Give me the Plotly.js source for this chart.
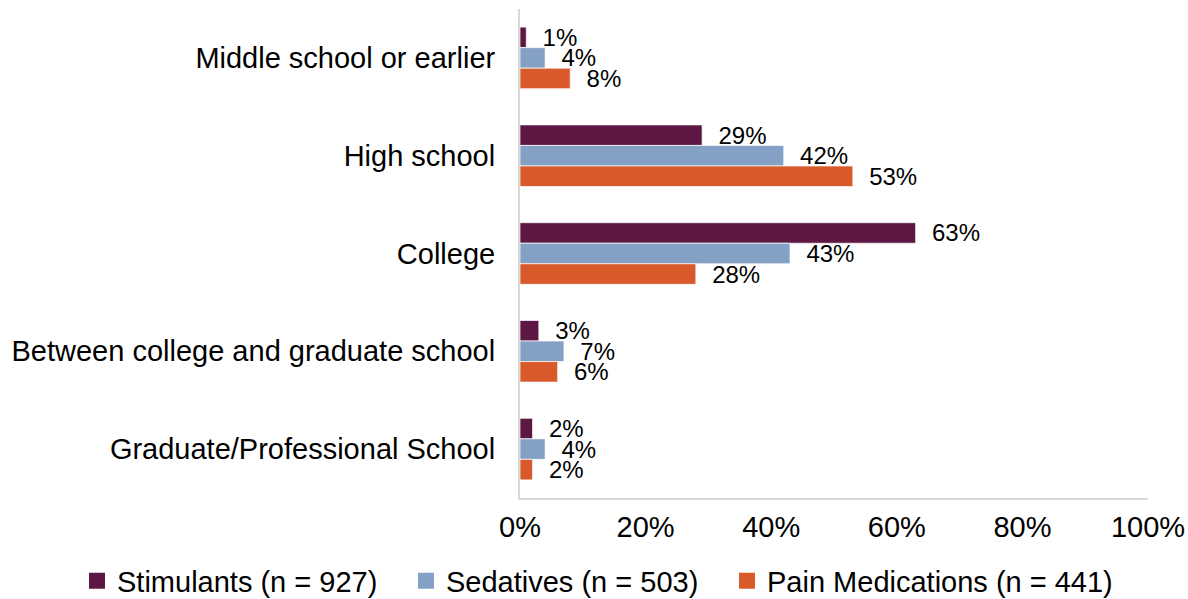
<!DOCTYPE html>
<html>
<head>
<meta charset="utf-8">
<script src="https://cdn.plot.ly/plotly-3.0.1.min.js"></script>
<style>html,body{margin:0;padding:0;background:#fff;}#chart{width:1188px;height:599px;}</style>
</head>
<body>
<div id="chart"></div>
<script>
const categories = ["Middle school or earlier", "High school", "College", "Between college and graduate school", "Graduate/Professional School"];
const stimulants = [1, 29, 63, 3, 2];
const sedatives = [4, 42, 43, 7, 4];
const painMeds = [8, 53, 28, 6, 2];
const seriesNames = ["Stimulants (n = 927)", "Sedatives (n = 503)", "Pain Medications (n = 441)"];
const seriesColors = ["#5c1842", "#85a0c5", "#d85a2a"];
const xTickVals = [0, 20, 40, 60, 80, 100];
const xTickText = ["0%", "20%", "40%", "60%", "80%", "100%"];

const font = "Liberation Sans, Arial, sans-serif";
const seriesValues = [stimulants, sedatives, painMeds];
const legendIds = ["legend", "legend2", "legend3"];
const legendX = [77, 406, 727];

const traces = seriesValues.map((vals, i) => ({
  type: "bar",
  orientation: "h",
  name: seriesNames[i],
  showlegend: false,
  y: categories,
  x: vals,
  marker: {color: seriesColors[i], line: {color: "rgba(255,255,255,0.7)", width: 1}},
  text: vals.map(v => "\u00a0\u00a0" + v + "%"),
  textposition: "outside",
  constraintext: "none",
  cliponaxis: false,
  textfont: {family: font, size: 24, color: "#000"},
  hoverinfo: "none"
}));

// legend-only entries (square swatches like the reference)
seriesNames.forEach((name, i) => {
  traces.push({
    type: "scatter",
    mode: "markers",
    name: name,
    legend: legendIds[i],
    showlegend: true,
    x: [null],
    y: [null],
    marker: {symbol: "square", size: 16, color: seriesColors[i]},
    hoverinfo: "none"
  });
});

const W = 1188, H = 599;
const layout = {
  width: W,
  height: H,
  margin: {l: 520, r: 40, t: 9, b: 101},
  paper_bgcolor: "#fff",
  plot_bgcolor: "#fff",
  barmode: "group",
  bargap: 0.37,
  bargroupgap: 0,
  font: {family: font, size: 29, color: "#000"},
  xaxis: {
    range: [0, 100],
    tickvals: xTickVals,
    ticktext: xTickText,
    showgrid: false,
    zeroline: false,
    showline: true,
    linecolor: "#d9d9d9",
    linewidth: 2,
    ticks: "outside",
    ticklen: 2,
    tickcolor: "rgba(0,0,0,0)",
    tickfont: {family: font, size: 29, color: "#000"},
    fixedrange: true
  },
  yaxis: {
    type: "category",
    autorange: "reversed",
    showgrid: false,
    zeroline: false,
    showline: true,
    linecolor: "#d9d9d9",
    linewidth: 2,
    ticks: "outside",
    ticklen: 17,
    tickcolor: "rgba(0,0,0,0)",
    tickfont: {family: font, size: 29, color: "#000"},
    fixedrange: true
  },
  showlegend: true
};

legendIds.forEach((id, i) => {
  layout[id] = {
    orientation: "h",
    xref: "container",
    yref: "container",
    x: legendX[i] / W,
    xanchor: "left",
    y: 1 - 581 / H,
    yanchor: "middle",
    font: {family: font, size: 29, color: "#000"},
    bgcolor: "rgba(0,0,0,0)",
    itemwidth: 30
  };
});

Plotly.newPlot("chart", traces, layout, {displayModeBar: false, staticPlot: true});
</script>
</body>
</html>
